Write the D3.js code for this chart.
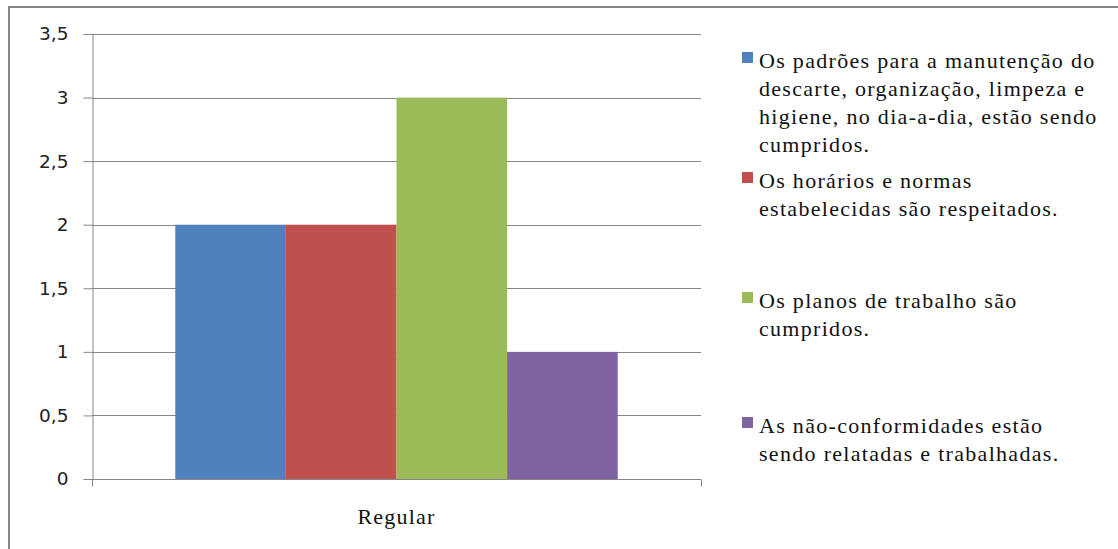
<!DOCTYPE html>
<html>
<head>
<meta charset="utf-8">
<script src="https://cdn.jsdelivr.net/npm/d3@7"></script>
<style>
  html, body { margin: 0; padding: 0; background: #fff; }
  svg { display: block; }
  .serif { font-family: "Liberation Serif", "Times New Roman", Tinos, "DejaVu Serif", "Noto Serif", serif; }
</style>
</head>
<body>
<svg id="chart" width="1118" height="549"></svg>
<script>
// Chart data
const categories = ["Regular"];
const seriesNames = [
  "Os padrões para a manutenção do descarte, organização, limpeza e higiene, no dia-a-dia, estão sendo cumpridos.",
  "Os horários e normas estabelecidas são respeitados.",
  "Os planos de trabalho são cumpridos.",
  "As não-conformidades estão sendo relatadas e trabalhadas."
];
const seriesValues = [2, 2, 3, 1];
const seriesColors = ["#4F81BD", "#C0504D", "#9BBB59", "#8064A2"];
const yTickValues = [0, 0.5, 1, 1.5, 2, 2.5, 3, 3.5];
// Legend text as wrapped in the legend box
const legendLines = [
  ["Os padrões para a manutenção do", "descarte, organização, limpeza e", "higiene, no dia-a-dia, estão sendo", "cumpridos."],
  ["Os horários e normas", "estabelecidas são respeitados."],
  ["Os planos de trabalho são", "cumpridos."],
  ["As não-conformidades estão", "sendo relatadas e trabalhadas."]
];

const svg = d3.select("#chart");

// Outer chart frame
svg.append("rect")
  .attr("x", 9).attr("y", 7)
  .attr("width", 1130).attr("height", 560)
  .attr("fill", "#fff")
  .attr("stroke", "#868686")
  .attr("stroke-width", 2);

const plot = { left: 92, right: 701, top: 34, bottom: 479 };

const y = d3.scaleLinear().domain([0, 3.5]).range([plot.bottom, plot.top]);
const x0 = d3.scaleBand().domain(categories).range([plot.left, plot.right]);
const x1 = d3.scaleBand()
  .domain(d3.range(seriesValues.length))
  .range([0, x0.bandwidth()])
  .paddingInner(0)
  .paddingOuter(0.753);

const ptBR = d3.formatLocale({ decimal: ",", thousands: ".", grouping: [3], currency: ["R$", ""] });
const fmt = v => ptBR.format("~g")(v);

// Horizontal gridlines
svg.append("g")
  .selectAll("line")
  .data(yTickValues)
  .join("line")
  .attr("x1", plot.left).attr("x2", plot.right)
  .attr("y1", d => Math.round(y(d)) + 0.5).attr("y2", d => Math.round(y(d)) + 0.5)
  .attr("stroke", "#868686")
  .attr("stroke-width", 1);

// Bars
svg.append("g")
  .selectAll("rect")
  .data(seriesValues.map((v, i) => ({ v, i, cat: categories[0] })))
  .join("rect")
  .attr("x", d => x0(d.cat) + x1(d.i))
  .attr("y", d => y(d.v))
  .attr("width", x1.bandwidth())
  .attr("height", d => y(0) - y(d.v))
  .attr("fill", d => seriesColors[d.i]);

// Y axis
const yAxis = svg.append("g")
  .attr("transform", `translate(${plot.left + 0.5},0)`)
  .call(d3.axisLeft(y).tickValues(yTickValues).tickFormat(fmt).tickSize(9).tickPadding(15).tickSizeOuter(0));
yAxis.select(".domain").attr("stroke", "#868686");
yAxis.selectAll(".tick line").attr("stroke", "#868686");
yAxis.selectAll(".tick text")
  .attr("fill", "#222")
  .style("font-family", "'DejaVu Sans', Verdana, sans-serif")
  .style("font-size", "18.5px");

// X axis
const xAxis = svg.append("g")
  .attr("transform", `translate(0,${plot.bottom + 0.5})`);
xAxis.append("line")
  .attr("x1", plot.left).attr("x2", plot.right)
  .attr("stroke", "#868686");
xAxis.selectAll("line.edge")
  .data([plot.left, plot.right])
  .join("line")
  .attr("class", "edge")
  .attr("x1", d => d + 0.5).attr("x2", d => d + 0.5)
  .attr("y1", 0).attr("y2", 7)
  .attr("stroke", "#868686");
xAxis.selectAll("text")
  .data(categories)
  .join("text")
  .attr("class", "serif")
  .attr("x", d => x0(d) + x0.bandwidth() / 2)
  .attr("y", 44)
  .attr("text-anchor", "middle")
  .attr("fill", "#111")
  .style("font-size", "22px")
  .style("letter-spacing", "1.2px")
  .text(d => d);

// Legend
const legendFirstBaseline = [68, 188, 308, 433];
const lineHeight = 28;
const legend = svg.append("g");
seriesNames.forEach((name, i) => {
  const g = legend.append("g");
  g.append("rect")
    .attr("x", 742).attr("y", legendFirstBaseline[i] - 16)
    .attr("width", 11).attr("height", 11)
    .attr("fill", seriesColors[i]);
  g.append("text")
    .attr("class", "serif")
    .attr("x", 759)
    .attr("y", legendFirstBaseline[i])
    .attr("fill", "#111")
    .style("font-size", "22px")
    .style("letter-spacing", "1.3px")
    .selectAll("tspan")
    .data(legendLines[i])
    .join("tspan")
    .attr("x", 759)
    .attr("dy", (d, j) => j === 0 ? 0 : lineHeight)
    .text(d => d);
});
</script>
</body>
</html>
